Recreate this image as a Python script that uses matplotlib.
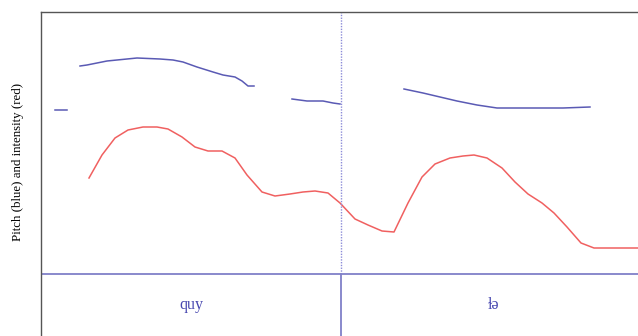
import matplotlib.pyplot as plt

# time (ms) and values (arbitrary units above the tier line)
pitch_segments = [
    ([14, 26], [164, 164]),
    ([39, 46, 66, 96, 119, 132, 142, 156, 172, 182, 194, 201, 207, 213],
     [208, 209, 213, 216, 215, 214, 212, 207, 202, 199, 197, 193, 188, 188]),
    ([251, 266, 282, 292, 299], [175, 173, 173, 171, 170]),
    ([363, 382, 399, 416, 436, 456, 482, 502, 522, 549],
     [185, 181, 177, 173, 169, 166, 166, 166, 166, 167]),
]

int_t = [48, 61, 74, 87, 102, 116, 127, 141, 154, 167, 181, 194, 206, 221, 234,
         249, 262, 274, 287, 299, 314, 327, 341, 353, 367, 381, 394, 409, 422,
         433, 446, 461, 474, 487, 501, 513, 526, 540, 553, 597]
int_v = [96, 119, 136, 144, 147, 147, 145, 137, 127, 123, 123, 116, 99, 82, 78,
         80, 82, 83, 81, 71, 55, 49, 43, 42, 71, 97, 110, 116, 118,
         119, 116, 106, 92, 80, 71, 61, 47, 31, 26, 26]

boundaries = [300]
labels = ["quy", "ɫə"]
label_t = [150, 452]

blue = "#5a5ab4"
red = "#f06060"

fig = plt.figure(figsize=(6.38, 3.36), dpi=100)
ax = fig.add_axes([41 / 638, 0, 597 / 638, 324 / 336])
ax.set_xlim(0, 597)
ax.set_ylim(-62, 262)

for t, v in pitch_segments:
    ax.plot(t, v, color=blue, lw=1.1)
ax.plot(int_t, int_v, color=red, lw=1.1)

ax.axhline(0, color="#8080c8", lw=1.3)
for b in boundaries:
    ax.plot([b, b], [0, 262], color="#8c8cd8", lw=1.0, ls=(0, (1, 1)))
    ax.plot([b, b], [-62, 0], color="#8080c8", lw=1.3)

for t, s in zip(label_t, labels):
    ax.text(t, -31, s, color="#4848b0", fontsize=11.5, ha="center", va="center",
            family=["Liberation Serif", "DejaVu Serif"])

for side in ["right", "bottom"]:
    ax.spines[side].set_visible(False)
for side in ["left", "top"]:
    ax.spines[side].set_color("#555555")
    ax.spines[side].set_linewidth(1.0)
ax.set_xticks([])
ax.set_yticks([])

fig.text(18 / 638, 1 - 162 / 336, "Pitch (blue) and intensity (red)", rotation=90,
         ha="center", va="center", fontsize=9.3, family="Liberation Serif")

fig.savefig("out.png", dpi=100)
